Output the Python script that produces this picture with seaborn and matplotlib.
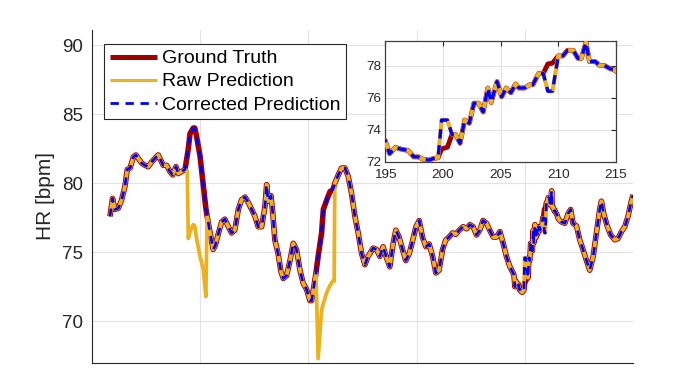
import matplotlib
matplotlib.use("Agg")
import matplotlib.pyplot as plt
import seaborn as sns
import pandas as pd
import numpy as np

# ---------------- data ----------------
t = [8.3, 9.5, 10.6, 12.2, 13.7, 15.2, 16.3, 17.6, 19.1, 20.3, 21.4, 23.0, 24.5, 26.0,
     27.6, 29.1, 30.6, 31.7, 32.9, 34.5, 36.0, 37.3, 38.8, 39.9, 41.4, 43.0, 44.0, 44.5,
     45.3, 46.8, 47.5, 48.3, 49.9, 51.4, 52.6, 53.2, 54.5, 56.0, 57.0, 58.3, 59.9, 61.4,
     63.0, 64.5, 66.0, 67.6, 69.1, 70.7, 72.2, 73.8, 75.3, 76.8, 78.4, 79.9, 80.7, 81.4,
     82.7, 83.5, 84.5, 86.0, 87.3, 88.4, 89.9, 91.5, 93.0, 94.5, 96.1, 97.6, 99.2, 100.7,
     101.5, 102.3, 103.5, 104.5, 106.1, 106.9, 108.5, 110.0, 111.2, 111.9, 112.2, 113.8,
     115.3, 116.9, 118.4, 119.9, 121.5, 123.0, 124.6, 126.1, 127.6, 129.9, 131.5, 133.0,
     134.5, 136.1, 137.6, 139.2, 140.4, 141.9, 143.5, 145.0, 146.6, 148.1, 149.7, 151.2,
     152.7, 154.3, 155.8, 157.4, 158.9, 160.4, 162.0, 163.5, 165.0, 166.6, 168.1, 169.7,
     171.5, 173.1, 174.6, 176.1, 177.7, 179.2, 180.7, 182.3, 183.8, 185.4, 186.9, 188.5,
     190.0, 191.5, 193.1, 194.6, 195.0, 195.4, 195.9, 196.3, 197.0, 197.5, 197.9, 198.3,
     198.8, 199.2, 199.6, 199.9, 200.4, 200.8, 201.1, 201.5, 201.9, 202.3, 202.7, 203.1,
     203.5, 203.9, 204.2, 204.7, 205.1, 205.5, 205.9, 206.3, 206.6, 207.1, 207.5, 207.8,
     208.3, 208.7, 209.1, 209.5, 210.0, 210.4, 210.8, 211.3, 211.7, 212.0, 212.4, 212.7,
     213.2, 213.6, 214.0, 214.5, 214.8, 215.4, 216.2, 216.9, 218.5, 220.0, 221.2, 222.3,
     223.9, 225.4, 226.9, 228.5, 230.0, 231.6, 233.1, 234.6, 235.4, 236.6, 238.2, 239.7,
     241.6, 243.1, 244.7, 246.2, 247.7, 249.0, 250.0]

hr_truth = [77.6, 78.9, 78.1, 78.2, 78.8, 79.75, 81.0, 81.1, 81.9, 82.05, 81.8, 81.45, 81.3, 81.2,
            81.55, 81.8, 82.05, 81.7, 81.3, 81.3, 80.85, 80.6, 81.2, 80.7, 80.85, 81.0, 82.0, 82.5,
            83.6, 84.0, 84.0, 83.4, 82.0, 79.9, 78.2, 77.6, 76.5, 75.2, 75.5, 76.3, 77.2, 77.4,
            76.85, 76.4, 76.6, 78.1, 78.8, 79.0, 78.6, 78.1, 77.6, 76.85, 76.85, 78.3, 79.9, 78.7,
            79.1, 77.9, 75.9, 74.9, 73.6, 73.1, 73.3, 74.4, 75.65, 75.2, 73.7, 72.75, 72.3, 71.5,
            71.5, 72.3, 73.5, 74.7, 76.4, 78.1, 78.8, 79.4, 79.5, 79.8, 80.0, 80.6,
            81.1, 81.1, 80.5, 79.3, 77.6, 76.4, 74.9, 74.1, 74.7, 75.3, 75.2, 74.7,
            75.4, 74.6, 73.95, 75.65, 76.6, 76.1, 75.2, 74.4, 74.9, 75.8, 76.85, 77.3,
            76.1, 75.4, 75.6, 74.7, 73.5, 73.7, 75.2, 75.9, 76.1, 76.4, 76.3, 76.6,
            76.85, 76.7, 77.0, 76.85, 76.25, 76.6, 77.3, 77.1, 76.6, 76.1, 76.1, 76.5,
            75.65, 74.7, 73.95, 73.5, 73.35, 72.5, 72.9, 72.8, 72.7, 72.3, 72.3, 72.15,
            72.1, 72.2, 72.25, 72.8, 72.9, 73.7, 73.7, 73.15, 74.6, 74.4, 75.65, 75.65,
            75.1, 76.6, 75.7, 77.0, 76.05, 76.6, 76.3, 76.85, 76.6, 76.6, 76.8, 76.8,
            77.5, 77.5, 78.1, 78.15, 78.6, 78.6, 78.95, 78.95, 78.45, 78.45, 79.45, 78.25,
            78.25, 78.0, 78.0, 77.8, 77.75, 77.45, 77.3, 77.2, 77.1, 77.8, 78.1, 77.1,
            76.9, 75.9, 75.2, 74.4, 73.7, 74.7, 76.4, 78.1, 78.7, 77.7, 76.85, 76.25,
            75.9, 76.0, 76.5, 76.85, 77.6, 78.55, 79.15]

# raw prediction where it differs from the ground truth
raw_dev_t = [44.0, 44.5, 45.3, 46.8, 47.5, 48.3, 49.9, 51.4, 52.6,
             104.5, 106.1, 106.9, 108.5, 110.0, 111.2, 111.9,
             199.9, 200.4, 209.1, 209.5]
raw_dev_hr = [80.9, 76.0, 76.5, 77.0, 76.9, 76.0, 74.7, 73.8, 71.8,
              67.3, 70.8, 71.3, 72.1, 72.6, 72.9, 72.9,
              74.6, 74.6, 76.4, 76.4]

# ranges where the corrected prediction restores the ground truth
corr_ranges = [(44.0, 52.6), (104.5, 111.9)]

labels = ["Ground Truth", "Raw Prediction", "Corrected Prediction"]
colors = ["#A00000", "#EDB120", "#0000FF"]

# ---------------- build series ----------------
raw_map = dict(zip(raw_dev_t, raw_dev_hr))
hr_raw = [raw_map.get(x, y) for x, y in zip(t, hr_truth)]
hr_corr = [y_t if any(a <= x <= b for a, b in corr_ranges) else y_r
           for x, y_t, y_r in zip(t, hr_truth, hr_raw)]
df = pd.DataFrame({"t": t, "truth": hr_truth, "raw": hr_raw, "corr": hr_corr})

# ---------------- style ----------------
sns.set_theme(style="white")
plt.rcParams["font.family"] = ["Liberation Sans", "DejaVu Sans"]
dark = "#262626"
gridc = "#E3E3E3"

fig = plt.figure(figsize=(7.0, 3.81), dpi=100)
fig.patch.set_facecolor("white")


def draw(ax, lw, dash):
    sns.lineplot(data=df, x="t", y="truth", ax=ax, color=colors[0], lw=lw[0],
                 sort=False, estimator=None, label=labels[0], zorder=3)
    sns.lineplot(data=df, x="t", y="raw", ax=ax, color=colors[1], lw=lw[1],
                 sort=False, estimator=None, label=labels[1], zorder=4)
    sns.lineplot(data=df, x="t", y="corr", ax=ax, color=colors[2], lw=lw[2],
                 sort=False, estimator=None, label=labels[2], zorder=5)
    ax.lines[-1].set_dashes(dash)
    for ln in ax.lines:
        ln.set_solid_joinstyle("round")
        ln.set_solid_capstyle("butt")


# main axes
ax = fig.add_axes([92 / 700, 1 - 362.7 / 381, 541 / 700, 332.7 / 381])
draw(ax, (4.0, 2.7, 1.9), (3.0, 2.4))
ax.set_xlim(0, 250)
ax.set_ylim(67, 91.1)
ax.set_xticks([0, 50, 100, 150, 200, 250])
ax.set_xticklabels([])
ax.set_yticks([70, 75, 80, 85, 90])
ax.set_xlabel("")
ax.set_ylabel("HR [bpm]", fontsize=15, color=dark, labelpad=5)
ax.tick_params(axis="both", direction="in", length=4.5, width=0.8, colors=dark,
               labelsize=13.5, pad=6.5)
ax.grid(True, color=gridc, lw=0.8)
ax.set_axisbelow(True)
for s in ["top", "right"]:
    ax.spines[s].set_visible(False)
for s in ["left", "bottom"]:
    ax.spines[s].set_color(dark)
    ax.spines[s].set_linewidth(0.8)

leg = ax.legend(loc="upper left", bbox_to_anchor=(0.022, 0.958), borderaxespad=0,
                fontsize=14, handlelength=2.45, handletextpad=0.22,
                labelspacing=0.28, borderpad=0.3, fancybox=False, framealpha=1,
                edgecolor=dark)
leg.get_frame().set_linewidth(0.8)
for txt in leg.get_texts():
    txt.set_color("black")
lh = leg.legend_handles
lh[0].set_linewidth(3.6)
lh[1].set_linewidth(2.2)
lh[2].set_linewidth(2.0)
lh[2].set_dashes((3.0, 2.4))

# inset axes
ax2 = fig.add_axes([385 / 700, 1 - 161.7 / 381, 231 / 700, 121 / 381])
draw(ax2, (3.5, 3.0, 2.4), (2.8, 2.0))
if ax2.get_legend() is not None:
    ax2.get_legend().remove()
ax2.set_xlim(195, 215)
ax2.set_ylim(72, 79.55)
ax2.set_xticks([195, 200, 205, 210, 215])
ax2.set_yticks([72, 74, 76, 78])
ax2.set_xlabel("")
ax2.set_ylabel("")
ax2.tick_params(axis="both", direction="in", length=3.5, width=0.8, colors=dark,
                labelsize=9.7, top=True, right=True)
ax2.tick_params(axis="x", pad=5.5)
ax2.tick_params(axis="y", pad=2.5)
ax2.grid(True, color=gridc, lw=0.8)
ax2.set_axisbelow(True)
for s in ax2.spines.values():
    s.set_visible(True)
    s.set_color("#404040")
    s.set_linewidth(0.9)
ax2.set_facecolor("white")

fig.savefig("out.png", dpi=100, facecolor="white")
